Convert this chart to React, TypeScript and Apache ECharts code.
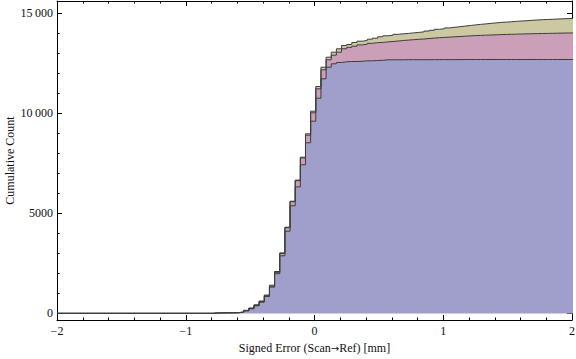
import React, { useEffect, useRef } from "react";
import * as echarts from "echarts";

// Histogram bins: left edges start at binStart, width binWidth
const binStart = -0.79;
const binWidth = 0.04;

// Cumulative counts per bin (three overlaid datasets)
const countsOlive = [
  20, 25, 30, 30, 35, 70, 150, 265, 425, 615,
  915, 1405, 2090, 3020, 4305, 5605, 6660, 7805, 8975, 10105,
  11340, 12305, 12805, 13055, 13225, 13390, 13440, 13540, 13605, 13640,
  13705, 13755, 13825, 13875, 13905, 13950, 13975, 13995, 14020, 14045,
  14070, 14110, 14150, 14200, 14230, 14270, 14300, 14330, 14360, 14390,
  14420, 14445, 14470, 14495, 14520, 14545, 14560, 14575, 14600, 14615,
  14630, 14650, 14665, 14680, 14690, 14700, 14715, 14725, 14735, 14745,
];
const countsPink = [
  16, 20, 25, 25, 30, 60, 135, 245, 400, 585,
  875, 1355, 2050, 2990, 4280, 5580, 6630, 7770, 8905, 10025,
  11225, 12175, 12675, 12905, 13055, 13225, 13300, 13355, 13420, 13455,
  13500, 13530, 13545, 13570, 13590, 13615, 13640, 13660, 13680, 13700,
  13715, 13740, 13760, 13780, 13795, 13810, 13825, 13840, 13855, 13870,
  13885, 13895, 13905, 13915, 13925, 13935, 13945, 13950, 13958, 13965,
  13972, 13978, 13984, 13990, 13995, 14000, 14005, 14010, 14015, 14020,
];
const countsBlue = [
  12, 15, 20, 20, 25, 52, 120, 225, 375, 555,
  840, 1310, 1980, 2875, 4105, 5375, 6320, 7425, 8525, 9605,
  10755, 11725, 12305, 12475, 12540, 12575, 12590, 12590, 12600, 12625,
  12625, 12640, 12650, 12675, 12675, 12675, 12675, 12680, 12680, 12680,
  12680, 12680, 12680, 12685, 12685, 12685, 12685, 12685, 12690, 12690,
  12690, 12690, 12690, 12690, 12690, 12690, 12690, 12690, 12690, 12690,
  12690, 12690, 12690, 12690, 12690, 12690, 12690, 12690, 12690, 12690,
];

const xTicks = [-2, -1, 0, 1, 2];
const yMajorTicks = [0, 5000, 10000, 15000];
const yMinorTicks = [1000, 2000, 3000, 4000, 6000, 7000, 8000, 9000, 11000, 12000, 13000, 14000];

const FONT = '"Liberation Serif", "DejaVu Serif", serif';

function toPoints(counts: number[]) {
  const pts: number[][] = [[-2, 0]];
  counts.forEach((c, i) => {
    pts.push([Math.round((binStart + i * binWidth) * 100) / 100, c]);
  });
  pts.push([2.05, counts[counts.length - 1]]);
  return pts;
}

function fmtY(v: number) {
  if (v >= 10000) {
    const s = String(v);
    return s.slice(0, s.length - 3) + "\u2009" + s.slice(s.length - 3);
  }
  return String(v);
}

function fmtX(v: number) {
  return v < 0 ? "\u2212" + Math.abs(v) : String(v);
}

export default function App() {
  const ref = useRef<HTMLDivElement>(null);
  useEffect(() => {
    document.body.style.margin = "0";
    const chart = echarts.init(ref.current!, undefined, { renderer: "svg" });
    const yMin = -335;
    const yMax = 15615;
    const lineColor = "#3d3d3d";
    const mkSeries = (name: string, counts: number[], color: string) => ({
      name,
      type: "line",
      step: "end",
      showSymbol: false,
      xAxisIndex: 0,
      yAxisIndex: 0,
      data: toPoints(counts),
      lineStyle: { color: lineColor, width: 1 },
      itemStyle: { color: lineColor },
      areaStyle: { color, opacity: 1 },
      clip: true,
    });
    const yBase = {
      type: "value",
      min: yMin,
      max: yMax,
      splitLine: { show: false },
    };
    const xBase = {
      type: "value",
      min: -2,
      max: 2,
      interval: 1,
      axisLine: { show: true, onZero: false, lineStyle: { color: "#000", width: 1 } },
      axisTick: { show: true, inside: true, length: 5, lineStyle: { color: "#000" } },
      minorTick: { show: true, splitNumber: 5, length: 2.5, lineStyle: { color: "#000" } },
      splitLine: { show: false },
    };
    chart.setOption({
      animation: false,
      grid: { left: 57, right: 4, top: 1, bottom: 39, outerBoundsMode: "none" },
      xAxis: [
        {
          ...xBase,
          position: "bottom",
          axisLabel: {
            formatter: fmtX,
            fontFamily: FONT,
            fontSize: 12,
            color: "#111",
            margin: 5,
            customValues: xTicks,
          },
          name: "Signed Error (Scan{arr|\u2192}Ref) [mm]",
          nameLocation: "middle",
          nameGap: 22,
          nameMoveOverlap: false,
          nameTextStyle: {
            fontFamily: FONT,
            fontSize: 12,
            color: "#111",
            rich: {
              arr: { fontFamily: '"DejaVu Sans", sans-serif', fontSize: 10, color: "#111" },
            },
          },
        },
        {
          ...xBase,
          position: "top",
          axisLabel: { show: false },
        },
      ],
      yAxis: [
        {
          ...yBase,
          position: "left",
          axisLine: { show: true, onZero: false, lineStyle: { color: "#000", width: 1 } },
          axisTick: {
            show: true,
            inside: true,
            length: 5,
            customValues: yMajorTicks,
            lineStyle: { color: "#000" },
          },
          axisLabel: {
            customValues: yMajorTicks,
            formatter: fmtY,
            fontFamily: FONT,
            fontSize: 12,
            color: "#111",
            margin: 4,
          },
          name: "Cumulative Count",
          nameLocation: "middle",
          nameGap: 41,
          nameMoveOverlap: false,
          nameTextStyle: { fontFamily: FONT, fontSize: 12, color: "#111" },
        },
        {
          ...yBase,
          position: "left",
          axisLine: { show: false, onZero: false },
          axisTick: {
            show: true,
            inside: true,
            length: 2.5,
            customValues: yMinorTicks,
            lineStyle: { color: "#000" },
          },
          axisLabel: { show: false },
        },
        {
          ...yBase,
          position: "right",
          axisLine: { show: true, onZero: false, lineStyle: { color: "#000", width: 1 } },
          axisTick: {
            show: true,
            inside: true,
            length: 5,
            customValues: yMajorTicks,
            lineStyle: { color: "#000" },
          },
          axisLabel: { show: false },
        },
        {
          ...yBase,
          position: "right",
          axisLine: { show: false, onZero: false },
          axisTick: {
            show: true,
            inside: true,
            length: 2.5,
            customValues: yMinorTicks,
            lineStyle: { color: "#000" },
          },
          axisLabel: { show: false },
        },
      ],
      series: [
        mkSeries("Dataset 1", countsOlive, "#CCC8A1"),
        mkSeries("Dataset 2", countsPink, "#CC9FB9"),
        mkSeries("Dataset 3", countsBlue, "#A09FCC"),
      ],
    });
    return () => chart.dispose();
  }, []);
  return (
    <div
      ref={ref}
      style={{ position: "absolute", left: 0, top: 0, width: 576, height: 359 }}
    />
  );
}
